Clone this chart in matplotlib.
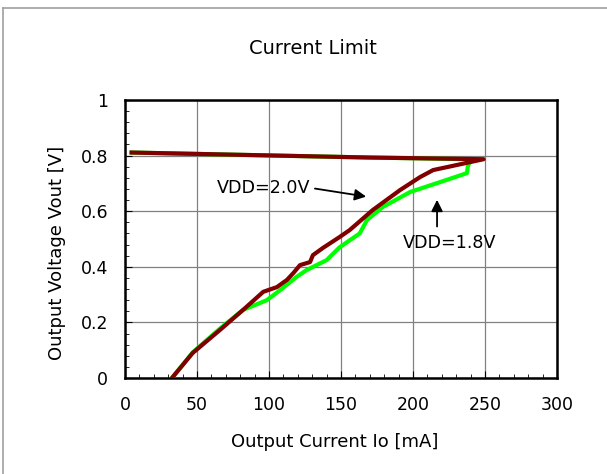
import matplotlib
matplotlib.use("Agg")
import matplotlib.pyplot as plt
from matplotlib.lines import Line2D
from matplotlib.ticker import MultipleLocator

# Data
vdd20_io = [32.6, 47, 66, 82, 96, 105.5, 112.5, 117, 121.5, 128.5, 130.5, 137.5, 149, 156,
            172, 191, 205, 214, 224, 249, 170, 4.6]
vdd20_vo = [0.0, 0.09, 0.173, 0.245, 0.31, 0.327, 0.353, 0.378, 0.406, 0.417, 0.442, 0.468, 0.507, 0.532,
            0.604, 0.676, 0.723, 0.748, 0.759, 0.787, 0.793, 0.811]

vdd18_io = [32.6, 47, 66, 82, 98.5, 108, 119, 126, 140, 149, 163, 168, 179, 198, 219, 237.5, 238,
            240, 170, 4.6]
vdd18_vo = [0.0, 0.092, 0.178, 0.245, 0.28, 0.317, 0.363, 0.388, 0.424, 0.47, 0.52, 0.568, 0.615,
            0.669, 0.705, 0.737, 0.759, 0.787, 0.793, 0.811]

title = "Current Limit"
xlabel = "Output Current Io [mA]"
ylabel = "Output Voltage Vout [V]"
x_ticks = [0, 50, 100, 150, 200, 250, 300]
y_ticks = [0, 0.2, 0.4, 0.6, 0.8, 1]
y_tick_labels = ["0", "0.2", "0.4", "0.6", "0.8", "1"]

W, H = 607, 474
fig = plt.figure(figsize=(W / 100, H / 100), dpi=100)
ax = fig.add_axes([125 / W, 1 - 378 / H, (557 - 125) / W, (378 - 100) / H])

ax.plot(vdd18_io, vdd18_vo, color="#00ff00", lw=3.0, solid_joinstyle="round", zorder=3)
ax.plot(vdd20_io, vdd20_vo, color="#800000", lw=3.0, solid_joinstyle="round", zorder=4)

ax.set_xlim(0, 300)
ax.set_ylim(0, 1)
ax.set_xticks(x_ticks)
ax.set_yticks(y_ticks)
ax.set_yticklabels(y_tick_labels)
ax.xaxis.set_minor_locator(MultipleLocator(10))
ax.yaxis.set_minor_locator(MultipleLocator(0.04))
ax.tick_params(which="both", direction="in", top=False, right=False, labelsize=12.5, colors="black")
ax.tick_params(which="major", length=5)
ax.tick_params(axis="x", which="major", pad=13)
ax.tick_params(axis="y", which="major", pad=12)
ax.tick_params(which="minor", length=3)
ax.grid(True, which="major", color="#808080", lw=0.9)
for s in ax.spines.values():
    s.set_linewidth(1.8)
    s.set_color("black")

fig.text(335 / W, 1 - 442 / H, xlabel, ha="center", va="center", fontsize=13)
fig.text(57 / W, 1 - 253 / H, ylabel, ha="center", va="center", rotation=90, fontsize=13)
fig.text(313 / W, 1 - 48 / H, title, ha="center", va="center", fontsize=14)

ax.annotate("", xy=(169.4, 0.651), xytext=(130, 0.683),
            arrowprops=dict(arrowstyle="-|>", color="black", lw=1.3, mutation_scale=17))
ax.text(129, 0.683, "VDD=2.0V", ha="right", va="center", fontsize=12.6)
ax.annotate("", xy=(216.7, 0.651), xytext=(216.7, 0.535),
            arrowprops=dict(arrowstyle="-|>", color="black", lw=1.3, mutation_scale=17))
ax.text(193, 0.486, "VDD=1.8V", ha="left", va="center", fontsize=12.6)

# figure border (top and left lines)
fig.add_artist(Line2D([3 / W, 3 / W], [0, 1 - 8 / H], transform=fig.transFigure, color="#a0a0a0", lw=1.2))
fig.add_artist(Line2D([3 / W, 1], [1 - 8 / H, 1 - 8 / H], transform=fig.transFigure, color="#a0a0a0", lw=1.2))

fig.savefig("out.png", dpi=100)
